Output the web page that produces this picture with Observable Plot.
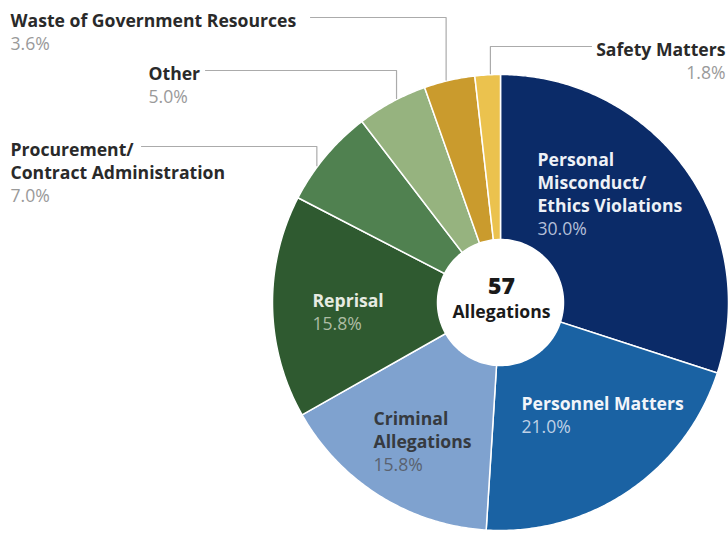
<!DOCTYPE html>
<html><head><meta charset="utf-8">
<script src="https://cdn.jsdelivr.net/npm/d3@7"></script>
<script src="https://cdn.jsdelivr.net/npm/@observablehq/plot@0.6"></script>
<style>body{margin:0;background:#fff;}</style>
</head><body><div id="chart"></div>
<script>
// ---- data ----
const categories = ["Personal Misconduct/Ethics Violations", "Personnel Matters", "Criminal Allegations", "Reprisal", "Procurement/Contract Administration", "Other", "Waste of Government Resources", "Safety Matters"];
const labelText = ["Personal\nMisconduct/\nEthics Violations", "Personnel Matters", "Criminal\nAllegations", "Reprisal", "Procurement/\nContract Administration", "Other", "Waste of Government Resources", "Safety Matters"];
const shares = [30.0, 21.0, 15.8, 15.8, 7.0, 5.0, 3.6, 1.8];
const totalCount = "57";
const totalLabel = "Allegations";
const sliceColors = ["#0b2b68", "#1a62a3", "#7fa2cf", "#2f5a30", "#508150", "#96b37f", "#ca9b2d", "#ebc24e"];

// ---- layout ----
const W = 728, H = 535, CX = 500, CY = 302, R = 228, R0 = 63;
const FS = 17.6, GAP = 23, FONT = "'Open Sans', sans-serif";
const CAP = 0.714 * FS;
const layout = [
  {x: 537, y: 153, anchor: "start", name: "#eef1f7", pct: "#b3bfd8"},
  {x: 521, y: 397, anchor: "start", name: "#f2f5fa", pct: "#bfd0e6"},
  {x: 373, y: 412, anchor: "start", name: "#363a40", pct: "#5a6270"},
  {x: 312, y: 294, anchor: "start", name: "#e6ebe2", pct: "#adbca4"},
  {x: 10, y: 143, anchor: "start", name: "#2a2a2a", pct: "#9a9a9a", lineX: 141, attach: 0.37},
  {x: 148, y: 67, anchor: "start", name: "#2a2a2a", pct: "#9a9a9a", lineX: 205, attach: 0.58},
  {x: 10, y: 14, anchor: "start", name: "#2a2a2a", pct: "#9a9a9a", lineX: 310, attach: 0.44},
  {x: 725, y: 43, anchor: "end", name: "#2a2a2a", pct: "#9a9a9a", lineX: 591, attach: 0.61}
];

const arcs = d3.pie().sort(null).value(d => d)(shares);
const pt = (a, r) => ({x: CX + r * Math.sin(a), y: CY - r * Math.cos(a)});

// slice polygons
const slicePts = [];
arcs.forEach((a, i) => {
  const cat = categories[i];
  slicePts.push({cat, ...pt(0, 0)});
  const n = Math.max(4, Math.ceil((a.endAngle - a.startAngle) / 0.01));
  for (let k = 0; k <= n; k++) {
    const t = a.startAngle + (a.endAngle - a.startAngle) * k / n;
    slicePts.push({cat, ...pt(t, R)});
  }
});
// inner circle
const holePts = d3.range(0, 361, 2).map(d => pt(d * Math.PI / 180, R0));

// leader lines for outside labels
const leaderPts = [];
layout.forEach((l, i) => {
  if (l.lineX == null) return;
  const a = arcs[i];
  const ang = a.startAngle + (a.endAngle - a.startAngle) * l.attach;
  const p = pt(ang, R + 1);
  const ly = l.y + 3;
  leaderPts.push({k: i, x: l.lineX, y: ly}, {k: i, x: p.x, y: ly}, {k: i, x: p.x, y: p.y});
});

const textMarks = [];
layout.forEach((l, i) => {
  const lines = labelText[i].split("\n").length;
  textMarks.push(Plot.text([labelText[i]], {
    x: () => l.x, y: () => l.y - (0.71 * GAP - CAP), text: d => d, textAnchor: l.anchor, lineAnchor: "top",
    fontSize: FS, fontWeight: 700, lineHeight: GAP / FS, fill: l.name, fontFamily: FONT
  }));
  textMarks.push(Plot.text([shares[i]], {
    x: () => l.x, y: () => l.y + lines * GAP - (0.71 * FS - CAP), text: d => d.toFixed(1) + "%", textAnchor: l.anchor, lineAnchor: "top",
    fontSize: FS, fontWeight: 400, fill: l.pct, fontFamily: FONT
  }));
});

const chart = Plot.plot({
  width: W, height: H, margin: 0,
  style: {fontFamily: FONT, background: "#fff"},
  x: {domain: [0, W], range: [0, W], axis: null},
  y: {domain: [0, H], range: [0, H], axis: null},
  color: {domain: categories, range: sliceColors},
  marks: [
    Plot.line(slicePts, {x: "x", y: "y", z: "cat", fill: "cat", stroke: "white", strokeWidth: 1.5, curve: "linear-closed"}),
    Plot.line(holePts, {x: "x", y: "y", fill: "white", stroke: "white", curve: "linear-closed"}),
    Plot.line(leaderPts, {x: "x", y: "y", z: "k", stroke: "#ababab", strokeWidth: 1.2}),
    ...textMarks,
    Plot.text([totalCount], {x: () => CX + 1, y: () => CY - 9, text: d => d, fontSize: 23, fontWeight: 800, fill: "#1a1a1a", lineAnchor: "bottom", fontFamily: FONT}),
    Plot.text([totalLabel], {x: () => CX + 1, y: () => CY + 3, text: d => d, fontSize: FS, fontWeight: 700, fill: "#1a1a1a", lineAnchor: "top", fontFamily: FONT})
  ]
});
document.getElementById("chart").appendChild(chart);
</script>
</body></html>
